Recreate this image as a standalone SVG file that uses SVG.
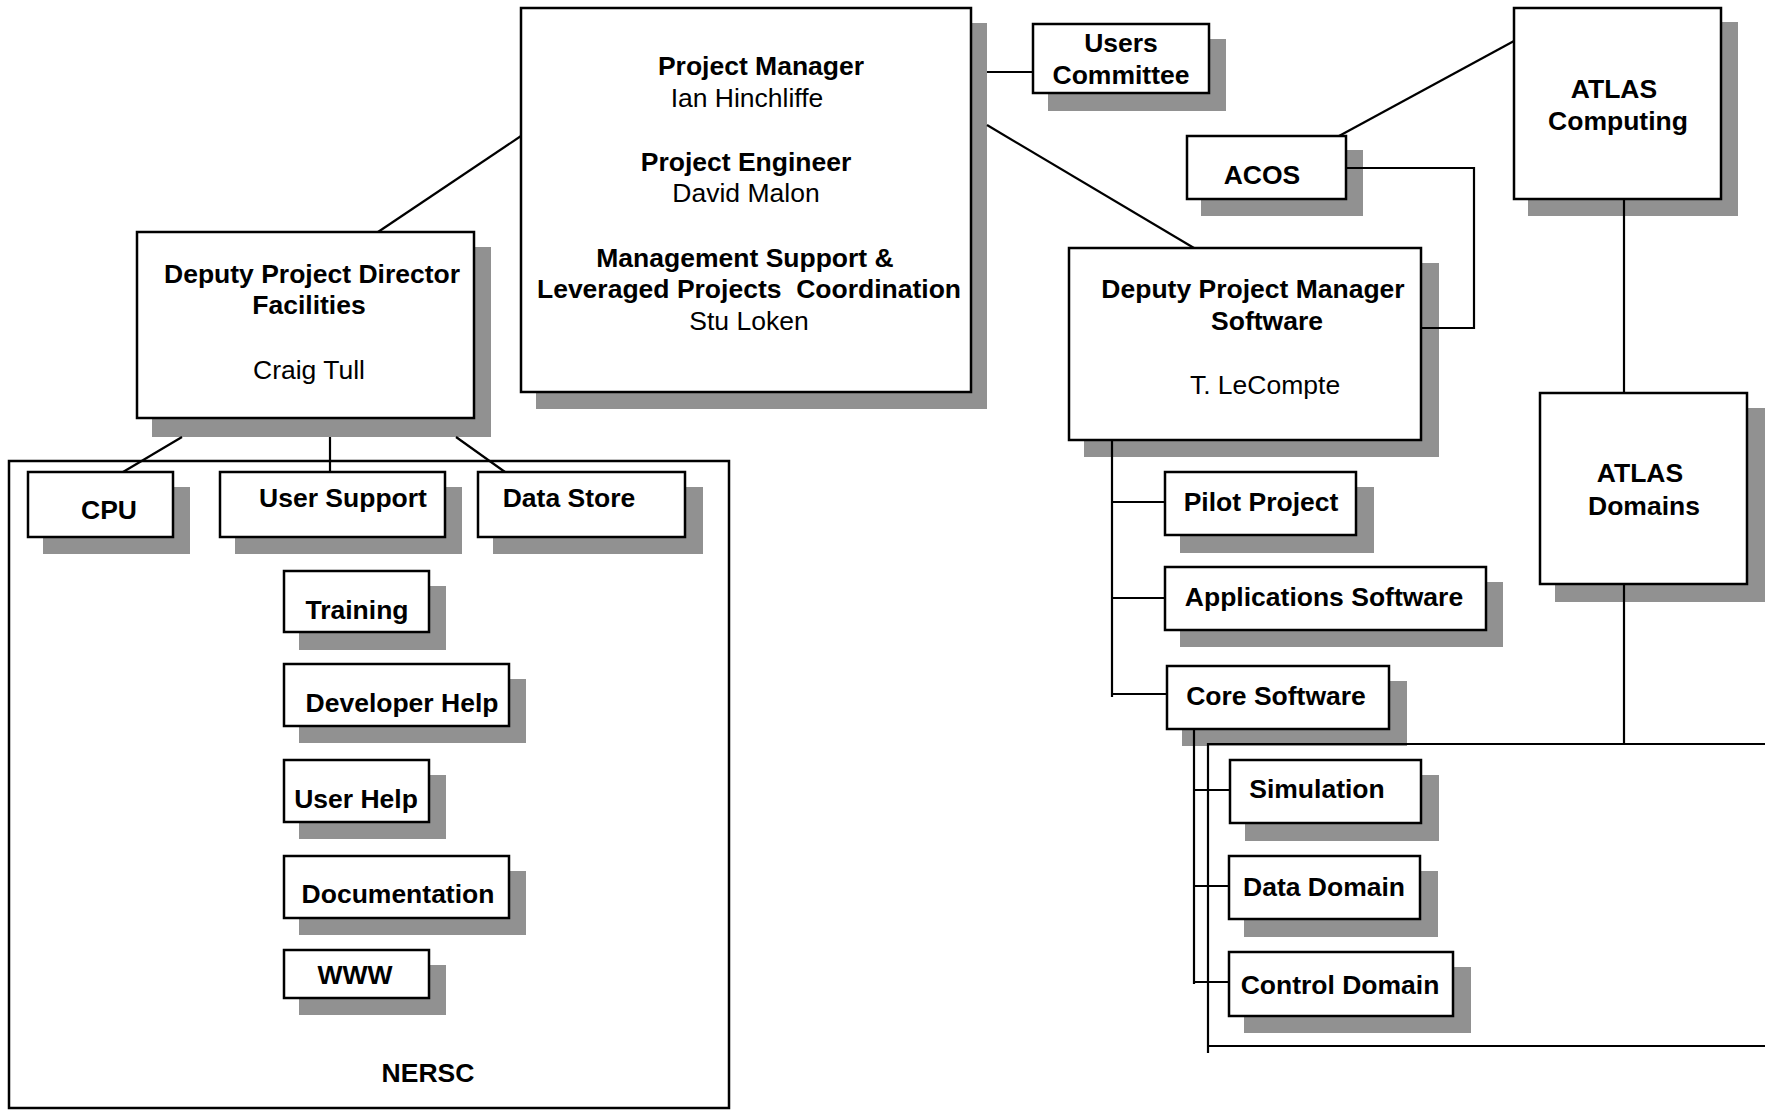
<svg xmlns="http://www.w3.org/2000/svg" width="1765" height="1111" viewBox="0 0 1765 1111">
<style>
.sh{fill:#919191;stroke:none}
.bx{fill:#fff;stroke:#000;stroke-width:2.5}
.ln{fill:none;stroke:#000;stroke-width:2.2}
text{font-family:"Liberation Sans",Arial,sans-serif;font-size:26.5px;fill:#000;text-anchor:middle}
.b{font-weight:bold}
</style>
<rect width="1765" height="1111" fill="#fff"/>

<g id="nersc">
<rect x="9" y="461" width="720" height="647" fill="none" stroke="#000" stroke-width="2.5"/>
<text class="b" x="428" y="1082">NERSC</text>
</g>

<g id="project-manager">
<rect class="sh" x="536" y="23" width="451" height="386"/>
<rect class="bx" x="521" y="8" width="450" height="384"/>
<text class="b" x="761" y="75">Project Manager</text>
<text x="747" y="107">Ian Hinchliffe</text>
<text class="b" x="746" y="171">Project Engineer</text>
<text x="746" y="202">David Malon</text>
<text class="b" x="745" y="267">Management Support &amp;</text>
<text class="b" x="749" y="298" xml:space="preserve">Leveraged Projects  Coordination</text>
<text x="749" y="330">Stu Loken</text>
</g>

<g id="users-committee">
<rect class="sh" x="1048" y="39" width="178" height="72"/>
<rect class="bx" x="1033" y="24" width="176" height="69"/>
<text class="b" x="1121" y="52">Users</text>
<text class="b" x="1121" y="84">Committee</text>
</g>

<g id="facilities">
<rect class="sh" x="152" y="247" width="339" height="190"/>
<rect class="bx" x="137" y="232" width="337" height="186"/>
<text class="b" x="312" y="283">Deputy Project Director</text>
<text class="b" x="309" y="314">Facilities</text>
<text x="309" y="379">Craig Tull</text>
</g>

<g id="cpu">
<rect class="sh" x="43" y="487" width="147" height="67"/>
<rect class="bx" x="28" y="472" width="145" height="65"/>
<text class="b" x="109" y="519">CPU</text>
</g>
<g id="user-support">
<rect class="sh" x="235" y="487" width="227" height="67"/>
<rect class="bx" x="220" y="472" width="225" height="65"/>
<text class="b" x="343" y="507">User Support</text>
</g>
<g id="data-store">
<rect class="sh" x="493" y="487" width="210" height="67"/>
<rect class="bx" x="478" y="472" width="207" height="65"/>
<text class="b" x="569" y="507">Data Store</text>
</g>
<g id="training">
<rect class="sh" x="299" y="586" width="147" height="64"/>
<rect class="bx" x="284" y="571" width="145" height="61"/>
<text class="b" x="357" y="619">Training</text>
</g>
<g id="developer-help">
<rect class="sh" x="299" y="679" width="227" height="64"/>
<rect class="bx" x="284" y="664" width="225" height="62"/>
<text class="b" x="402" y="712">Developer Help</text>
</g>
<g id="user-help">
<rect class="sh" x="299" y="775" width="147" height="64"/>
<rect class="bx" x="284" y="760" width="145" height="62"/>
<text class="b" x="356" y="808">User Help</text>
</g>
<g id="documentation">
<rect class="sh" x="299" y="871" width="227" height="64"/>
<rect class="bx" x="284" y="856" width="225" height="62"/>
<text class="b" x="398" y="903">Documentation</text>
</g>
<g id="www">
<rect class="sh" x="299" y="965" width="147" height="50"/>
<rect class="bx" x="284" y="950" width="145" height="48"/>
<text class="b" x="355" y="984">WWW</text>
</g>

<g id="acos">
<rect class="sh" x="1201" y="150" width="162" height="66"/>
<rect class="bx" x="1187" y="136" width="159" height="63"/>
<text class="b" x="1262" y="184">ACOS</text>
</g>
<g id="atlas-computing">
<rect class="sh" x="1528" y="22" width="210" height="194"/>
<rect class="bx" x="1514" y="8" width="207" height="191"/>
<text class="b" x="1614" y="98">ATLAS</text>
<text class="b" x="1618" y="130">Computing</text>
</g>
<g id="atlas-domains">
<rect class="sh" x="1555" y="408" width="210" height="194"/>
<rect class="bx" x="1540" y="393" width="207" height="191"/>
<text class="b" x="1640" y="482">ATLAS</text>
<text class="b" x="1644" y="515">Domains</text>
</g>
<g id="deputy-software">
<rect class="sh" x="1084" y="263" width="355" height="194"/>
<rect class="bx" x="1069" y="248" width="352" height="192"/>
<text class="b" x="1253" y="298">Deputy Project Manager</text>
<text class="b" x="1267" y="330">Software</text>
<text x="1265" y="394">T. LeCompte</text>
</g>
<g id="pilot-project">
<rect class="sh" x="1180" y="487" width="194" height="66"/>
<rect class="bx" x="1165" y="472" width="191" height="63"/>
<text class="b" x="1261" y="511">Pilot Project</text>
</g>
<g id="applications-software">
<rect class="sh" x="1180" y="582" width="323" height="65"/>
<rect class="bx" x="1165" y="567" width="321" height="63"/>
<text class="b" x="1324" y="606">Applications Software</text>
</g>
<g id="core-software">
<rect class="sh" x="1182" y="681" width="225" height="65"/>
<rect class="bx" x="1167" y="666" width="222" height="63"/>
<text class="b" x="1276" y="705">Core Software</text>
</g>
<g id="simulation">
<rect class="sh" x="1245" y="775" width="194" height="66"/>
<rect class="bx" x="1230" y="760" width="191" height="63"/>
<text class="b" x="1317" y="798">Simulation</text>
</g>
<g id="data-domain">
<rect class="sh" x="1244" y="871" width="194" height="66"/>
<rect class="bx" x="1229" y="856" width="191" height="63"/>
<text class="b" x="1324" y="896">Data Domain</text>
</g>
<g id="control-domain">
<rect class="sh" x="1244" y="967" width="227" height="66"/>
<rect class="bx" x="1229" y="952" width="224" height="64"/>
<text class="b" x="1340" y="994">Control Domain</text>
</g>

<g id="connectors" class="ln">
<line x1="378" y1="232" x2="521" y2="136"/>
<line x1="987" y1="72" x2="1033" y2="72"/>
<line x1="987" y1="125" x2="1194" y2="248"/>
<line x1="182" y1="437" x2="123" y2="472"/>
<line x1="330" y1="437" x2="330" y2="472"/>
<line x1="456" y1="437" x2="505" y2="472"/>
<line x1="1339" y1="136" x2="1514" y2="41"/>
<polyline points="1346,168 1474,168 1474,328 1421,328"/>
<line x1="1624" y1="199" x2="1624" y2="393"/>
<line x1="1624" y1="584" x2="1624" y2="744"/>
<line x1="1112" y1="440" x2="1112" y2="697"/>
<line x1="1112" y1="502" x2="1164" y2="502"/>
<line x1="1112" y1="598" x2="1164" y2="598"/>
<line x1="1112" y1="694" x2="1166" y2="694"/>
<line x1="1194" y1="729" x2="1194" y2="984"/>
<polyline points="1208,1053 1208,744 1765,744"/>
<line x1="1208" y1="1046" x2="1765" y2="1046"/>
<line x1="1195" y1="790" x2="1230" y2="790"/>
<line x1="1193" y1="886" x2="1229" y2="886"/>
<line x1="1194" y1="982" x2="1229" y2="982"/>
</g>
</svg>
